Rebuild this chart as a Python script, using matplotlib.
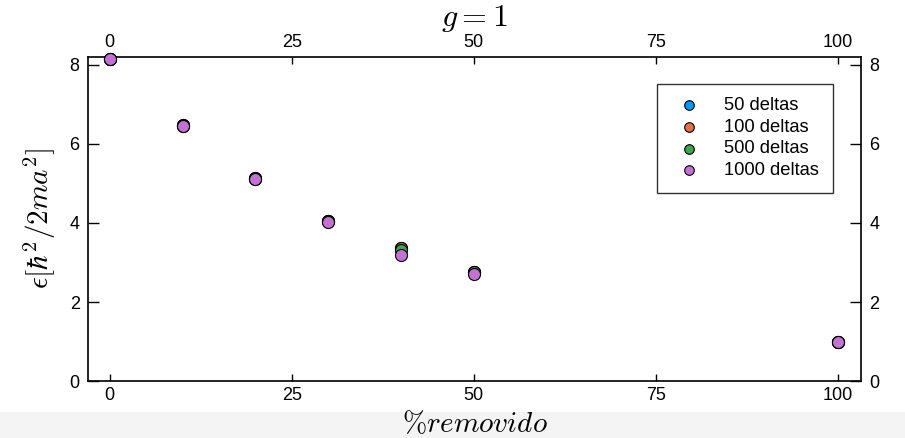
import matplotlib
matplotlib.use("Agg")
import matplotlib.pyplot as plt
from matplotlib.patches import Rectangle

plt.rcParams["mathtext.fontset"] = "cm"
plt.rcParams["font.family"] = ["Liberation Sans", "DejaVu Sans"]

removed = [0, 10, 20, 30, 40, 50, 100]
series_labels = ["50 deltas", "100 deltas", "500 deltas", "1000 deltas"]
energy_50 = [8.16, 6.47, 5.13, 4.05, 3.36, 2.76, 1.00]
energy_100 = [8.16, 6.47, 5.13, 4.05, 3.37, 2.76, 1.00]
energy_500 = [8.16, 6.46, 5.12, 4.04, 3.32, 2.75, 1.00]
energy_1000 = [8.15, 6.45, 5.10, 4.02, 3.18, 2.71, 0.99]
colors = ["#009AFA", "#E36F47", "#3EA44E", "#C371D2"]
x_ticks = [0, 25, 50, 75, 100]
y_ticks = [0, 2, 4, 6, 8]

fig = plt.figure(figsize=(9.05, 4.38), dpi=100)
# light strip along the bottom edge of the figure
fig.patches.append(Rectangle((0.0, 0.0), 1.0, 0.06, transform=fig.transFigure,
                             facecolor="#f4f4f4", edgecolor="none", zorder=-10))
ax = fig.add_axes([0.0972, 0.130, 0.8542, 0.740])

for ys, lab, c in zip([energy_50, energy_100, energy_500, energy_1000], series_labels, colors):
    ax.scatter(removed, ys, s=75, color=c, edgecolors="black", linewidths=0.8,
               label=lab, zorder=3, clip_on=False)

ax.set_xlim(-3, 103.2)
ax.set_ylim(0, 8.2)
ax.set_xticks(x_ticks)
ax.set_yticks(y_ticks)
ax.tick_params(axis="both", direction="in", top=True, right=True,
               labeltop=True, labelright=True, labelsize=13, width=1.0,
               colors="black")
ax.tick_params(axis="y", length=8, pad=6)
ax.tick_params(axis="x", length=5, pad=4)
for sp in ax.spines.values():
    sp.set_linewidth(1.2)

ax.set_title(r"$g = 1$", fontsize=23, pad=4)
ax.set_xlabel(r"$\%removido$", fontsize=21, labelpad=5)
ax.set_ylabel(r"$\epsilon[\hbar^2/2ma^2]$", fontsize=21, labelpad=8)

leg = ax.legend(loc="upper right", bbox_to_anchor=(0.9635, 0.918), fontsize=13.2,
                frameon=True, fancybox=False, edgecolor="black",
                borderpad=0.75, handletextpad=0.9, labelspacing=0.25,
                borderaxespad=0.0, markerscale=0.8)
leg.get_frame().set_linewidth(1.0)

fig.savefig("out.png", dpi=100)
